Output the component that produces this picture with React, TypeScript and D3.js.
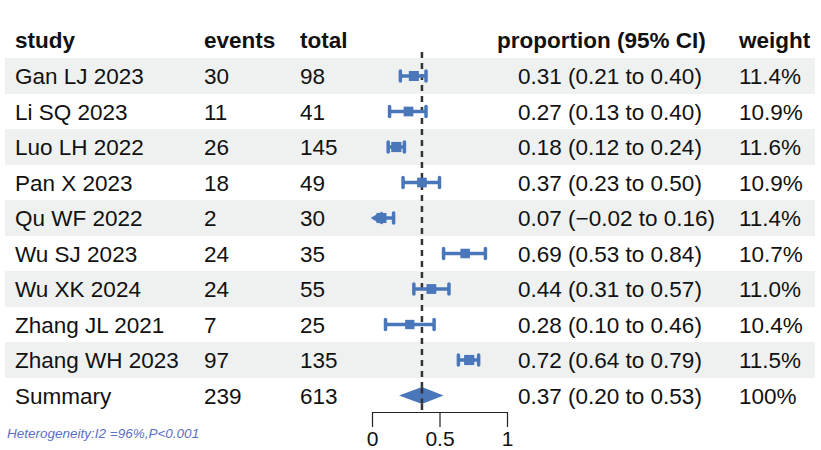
import React, { useEffect, useRef } from "react";
import * as d3 from "d3";

const studies = ["Gan LJ 2023", "Li SQ 2023", "Luo LH 2022", "Pan X 2023", "Qu WF 2022", "Wu SJ 2023", "Wu XK 2024", "Zhang JL 2021", "Zhang WH 2023"];
const events = [30, 11, 26, 18, 2, 24, 24, 7, 97];
const totals = [98, 41, 145, 49, 30, 35, 55, 25, 135];
const prop = [0.31, 0.27, 0.18, 0.37, 0.07, 0.69, 0.44, 0.28, 0.72];
const lower = [0.21, 0.13, 0.12, 0.23, -0.02, 0.53, 0.31, 0.10, 0.64];
const upper = [0.40, 0.40, 0.24, 0.50, 0.16, 0.84, 0.57, 0.46, 0.79];
const weights = [11.4, 10.9, 11.6, 10.9, 11.4, 10.7, 11.0, 10.4, 11.5];
const summary = { events: 239, total: 613, est: 0.37, lo: 0.20, hi: 0.53 };
const axisTicks = [0, 0.5, 1];

const BLUE = "#4a76ba";
const FONT = "'Liberation Sans', Arial, sans-serif";

const fmt = (v: number) => d3.format(".2f")(v).replace("-", "\u2212");

const App = () => {
  const axisRef = useRef<SVGGElement>(null);

  const x = d3.scaleLinear().domain([0, 1]).range([372, 507]);
  const rowY = d3.scaleLinear().domain([0, 1]).range([76, 111.5]);
  const sq = d3.scaleSqrt().domain([10, 12]).range([9, 10.5]);

  useEffect(() => {
    const g = d3.select(axisRef.current);
    g.call(
      d3.axisBottom(x).tickValues(axisTicks).tickSize(15).tickSizeOuter(0).tickFormat(d3.format("~g") as any)
    );
    g.select(".domain").attr("stroke", "#222").attr("stroke-width", 1.2);
    g.selectAll(".tick line").attr("stroke", "#222").attr("stroke-width", 1.2);
    g.selectAll(".tick text")
      .attr("font-size", 21)
      .attr("font-family", FONT)
      .attr("fill", "#111")
      .attr("y", 19)
      .attr("dy", "0.71em");
  }, []);

  const nRows = studies.length + 1;
  const textProps = { fontFamily: FONT, fontSize: 22.5, fill: "#111" };

  return (
    <svg width={821} height={450} style={{ display: "block", position: "absolute", top: 0, left: 0 }}>
      <rect width={821} height={450} fill="#fff" />
      {d3.range(nRows).map(i =>
        i % 2 === 0 ? (
          <rect key={i} x={5} y={rowY(i) - 18} width={810} height={36} fill="#eef1f0" />
        ) : null
      )}

      {/* header */}
      <g fontWeight="bold" {...textProps}>
        <text x={15} y={48}>study</text>
        <text x={204} y={48}>events</text>
        <text x={300} y={48}>total</text>
        <text x={497} y={48}>proportion (95% CI)</text>
        <text x={739} y={48}>weight</text>
      </g>

      {/* dashed reference at summary */}
      <line x1={x(summary.est)} x2={x(summary.est)} y1={52} y2={412} stroke="#333" strokeWidth={2.5} strokeDasharray="6,5" />

      {studies.map((s, i) => {
        const y = rowY(i);
        const lo = Math.max(lower[i], 0);
        const clipped = lower[i] < 0;
        const size = sq(weights[i]);
        return (
          <g key={s}>
            <g {...textProps}>
              <text x={15} y={y + 8}>{s}</text>
              <text x={204} y={y + 8}>{events[i]}</text>
              <text x={300} y={y + 8}>{totals[i]}</text>
              <text x={518} y={y + 8}>{`${fmt(prop[i])} (${fmt(lower[i])} to ${fmt(upper[i])})`}</text>
              <text x={739} y={y + 8}>{`${weights[i].toFixed(1)}%`}</text>
            </g>
            <line x1={clipped ? x(lo) + 8 : x(lo)} x2={x(upper[i])} y1={y} y2={y} stroke={BLUE} strokeWidth={3.5} />
            {!clipped && (
              <line x1={x(lo)} x2={x(lo)} y1={y - 5} y2={y + 5} stroke={BLUE} strokeWidth={3.5} strokeLinecap="round" />
            )}
            {clipped && (
              <path d={`M${x(lo)},${y}L${x(lo) + 10},${y - 5.5}L${x(lo) + 10},${y + 5.5}Z`} fill={BLUE} stroke={BLUE} strokeWidth={1.5} strokeLinejoin="round" />
            )}
            <line x1={x(upper[i])} x2={x(upper[i])} y1={y - 5} y2={y + 5} stroke={BLUE} strokeWidth={3.5} strokeLinecap="round" />
            <rect x={x(prop[i]) - size / 2} y={y - size / 2} width={size} height={size} fill={BLUE} />
          </g>
        );
      })}

      {/* summary row */}
      {(() => {
        const y = rowY(studies.length);
        return (
          <g>
            <g {...textProps}>
              <text x={15} y={y + 8}>Summary</text>
              <text x={204} y={y + 8}>{summary.events}</text>
              <text x={300} y={y + 8}>{summary.total}</text>
              <text x={518} y={y + 8}>{`${fmt(summary.est)} (${fmt(summary.lo)} to ${fmt(summary.hi)})`}</text>
              <text x={739} y={y + 8}>100%</text>
            </g>
            <path
              d={`M${x(summary.lo)},${y}L${x(summary.est)},${y - 8.5}L${x(summary.hi)},${y}L${x(summary.est)},${y + 8.5}Z`}
              fill={BLUE}
            />
            <line x1={x(summary.est)} x2={x(summary.est)} y1={y - 8} y2={y + 8} stroke="#333" strokeWidth={2.5} strokeDasharray="6,5" />
          </g>
        );
      })()}

      <g ref={axisRef} transform="translate(0,412)" />

      <text x={7} y={438} fontFamily={FONT} fontSize={13.5} fontStyle="italic" fill="#5b70c4">
        Heterogeneity:I2 =96%,P&lt;0.001
      </text>
    </svg>
  );
};

export default App;
